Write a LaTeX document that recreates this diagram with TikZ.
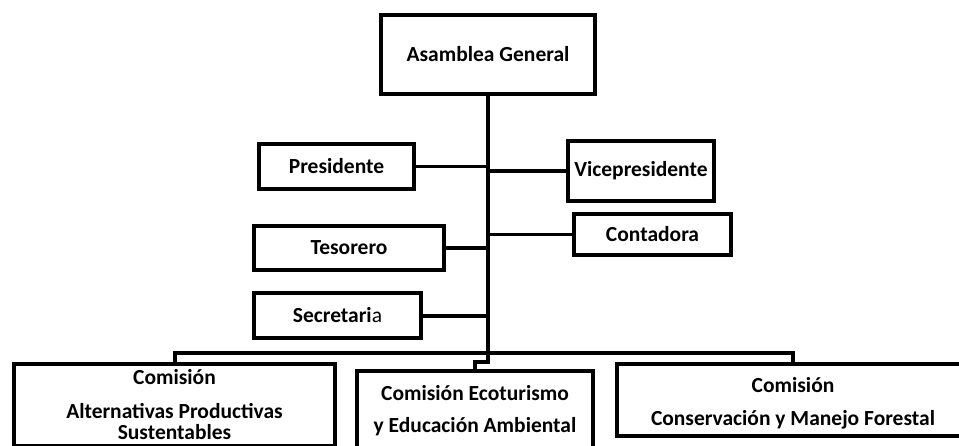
\documentclass[tikz,border=0pt]{standalone}
\usepackage{fontspec}
\setmainfont{Carlito}

\begin{document}
\begin{tikzpicture}[x=1pt,y=-1pt,
  caja/.style={draw,line width=4pt,inner sep=0pt,outer sep=0pt,align=center,
    font=\fontsize{21.5}{26}\selectfont\bfseries},
  linea/.style={line width=4pt},
  fina/.style={line width=3pt}]
\useasboundingbox (0,0) rectangle (959,445);
\clip (0,0) rectangle (959,445);
\node[caja,minimum width=214,minimum height=79] (asamblea) at (488,54.5) {Asamblea General};
\node[caja,minimum width=155,minimum height=45] (pres) at (336.5,166.5) {Presidente};
\node[caja,minimum width=146,minimum height=60] (vice) at (641,171) {Vicepresidente};
\node[caja,minimum width=157,minimum height=41] (conta) at (652.5,234.5) {Contadora};
\node[caja,minimum width=190,minimum height=44] (teso) at (349,248) {Tesorero};
\node[caja,minimum width=167,minimum height=45] (secre) at (337.5,315.5) {Secretari{\mdseries a}};
\node[caja,minimum width=321,minimum height=82] (com1) at (174.5,405)
  {Comisión\\[8pt]Alternativas Productivas\\[-5pt]Sustentables};
\node[caja,minimum width=236,minimum height=80] (com2) at (475,411)
  {Comisión Ecoturismo\\[6pt]y Educación Ambiental};
\node[caja,minimum width=352,minimum height=72] (com3) at (793,400)
  {\rule{0pt}{22pt}Comisión\\[7pt]Conservación y Manejo Forestal};
\coordinate (jog) at (488,362);
\coordinate (bar) at (488,353);
\draw[line width=4.5pt] (asamblea.south) -- (jog) -| (com2.north);
\draw[linea] (com1.north) |- (bar) -| (com3.north);
\draw[fina] (pres.east) -- (pres.east -| asamblea.south);
\draw[linea] (vice.west) -- (vice.west -| asamblea.south);
\draw[fina] (conta.west) -- (conta.west -| asamblea.south);
\draw[linea] (teso.east) -- (teso.east -| asamblea.south);
\draw[linea] (secre.east) -- (secre.east -| asamblea.south);
\end{tikzpicture}
\end{document}
